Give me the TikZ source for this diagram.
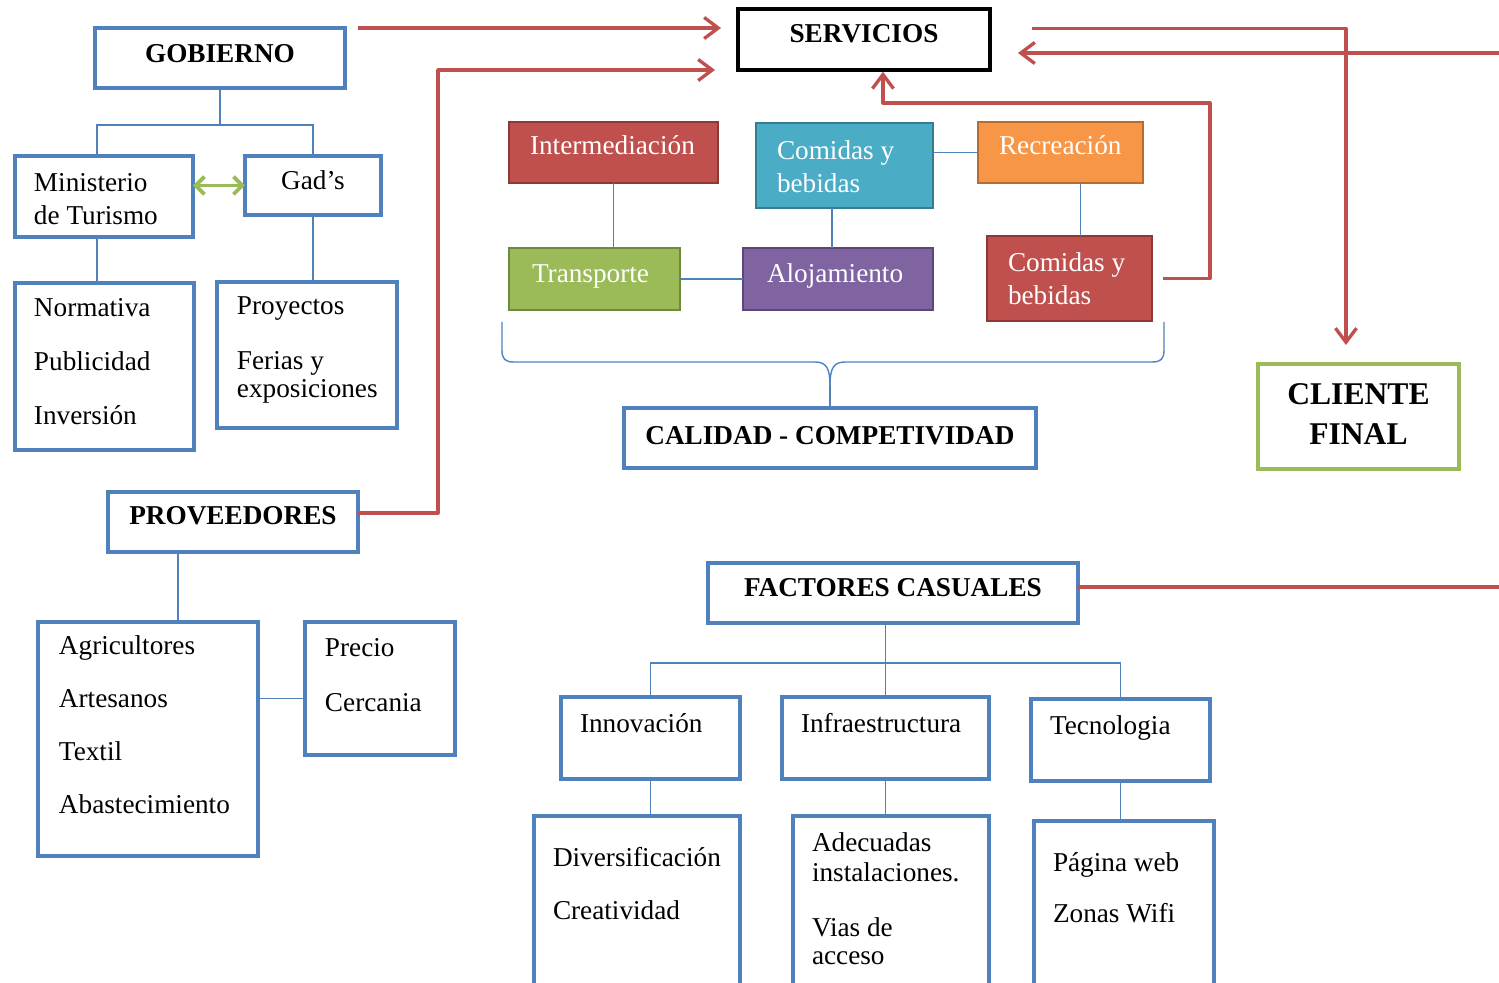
\documentclass[tikz,border=0pt]{standalone}
\usepackage{fontspec}
\setmainfont{Liberation Serif}
\usetikzlibrary{arrows.meta,calc}
\definecolor{OBlue}{HTML}{4F81BD}
\definecolor{ORed}{HTML}{C0504D}
\definecolor{ORedD}{HTML}{8C3836}
\definecolor{OTeal}{HTML}{4BACC6}
\definecolor{OTealD}{HTML}{357D91}
\definecolor{OOrange}{HTML}{F79646}
\definecolor{OOrangeD}{HTML}{B66D31}
\definecolor{OGreen}{HTML}{9BBB59}
\definecolor{OGreenD}{HTML}{71893F}
\definecolor{OPurple}{HTML}{8064A2}
\definecolor{OPurpleD}{HTML}{5C4776}
\newcommand{\bodyfont}{\fontsize{15.5}{18.7}\selectfont}
\newcommand{\headfont}{\bfseries\fontsize{15.5}{18.7}\selectfont}
\hyphenpenalty=10000

\begin{document}
\begin{tikzpicture}[x=0.02cm,y=-0.02cm,
    box/.style={draw=OBlue,line width=1.8pt,anchor=north west,inner ysep=0pt,
      outer sep=0pt,align=flush left,font=\bodyfont},
    head/.style={box,align=flush center,inner xsep=0.1cm,font=\headfont},
    tile/.style={box,draw=#1D,fill=#1,text=white,line width=1.6pt},
    link/.style={draw=OBlue,line width=0.8pt},
    flow/.style={draw=ORed,line width=1.9pt,line join=round,
      -{Straight Barb[length=8pt,width=12pt]}},
    flowline/.style={draw=ORed,line width=1.9pt}]
  \useasboundingbox (0,0) rectangle (1499,983);
  \clip (0,0) rectangle (1499,983);

  % gobierno
  \node[head,text width=4.8cm,text height=0.7cm,text depth=0.5cm] (gob) at (95,28) {GOBIERNO};
  \node[box,inner xsep=0.38cm,text width=2.8cm,text height=0.72cm,text depth=0.9cm] (mint) at (15,156) {Ministerio\\de Turismo};
  \node[head,font=\bodyfont,text width=2.52cm,text height=0.68cm,text depth=0.5cm] (gads) at (245,156) {Gad’s};
  \node[box,inner xsep=0.38cm,text width=2.82cm,text height=0.68cm,text depth=2.66cm] (norm) at (15,283) {Normativa\\[0.42cm]Publicidad\\[0.42cm]Inversión};
  \node[box,inner xsep=0.4cm,text width=2.8cm,text height=0.66cm,text depth=2.26cm] (proy) at (217,282) {Proyectos\\[0.44cm]Ferias y\\[-0.1cm]exposiciones};

  % proveedores
  \node[head,text width=4.8cm,text height=0.66cm,text depth=0.54cm] (prov) at (108,492) {PROVEEDORES};
  \node[box,inner xsep=0.42cm,text width=3.56cm,text height=0.66cm,text depth=4.02cm] (agri) at (38,622) {Agricultores\\[0.4cm]Artesanos\\[0.4cm]Textil\\[0.4cm]Abastecimiento};
  \node[box,inner xsep=0.4cm,text width=2.2cm,text height=0.7cm,text depth=1.96cm] (prec) at (305,622) {Precio\\[0.44cm]Cercania};

  % servicios
  \node[head,draw=black,text width=4.84cm,text height=0.68cm,text depth=0.54cm] (serv) at (738,9) {SERVICIOS};
  \node[tile=ORed,inner xsep=0.42cm,text width=3.34cm,text height=0.66cm,text depth=0.56cm] (inter) at (509,122) {Intermediación};
  \node[tile=OTeal,inner xsep=0.42cm,text width=2.7cm,text height=0.74cm,text depth=0.96cm] (cbb) at (756,123) {Comidas y\\bebidas};
  \node[tile=OOrange,inner xsep=0.42cm,text width=2.46cm,text height=0.66cm,text depth=0.56cm] (recr) at (978,122) {Recreación};
  \node[tile=OGreen,inner xsep=0.46cm,text width=2.5cm,text height=0.7cm,text depth=0.54cm] (trans) at (509,248) {Transporte};
  \node[tile=OPurple,inner xsep=0.48cm,text width=2.84cm,text height=0.7cm,text depth=0.54cm] (aloj) at (743,248) {Alojamiento};
  \node[tile=ORed,inner xsep=0.42cm,text width=2.46cm,text height=0.72cm,text depth=0.98cm] (cbr) at (987,236) {Comidas y\\bebidas};
  \node[head,text width=8.04cm,text height=0.74cm,text depth=0.46cm] (cal) at (624,408) {CALIDAD - COMPETIVIDAD};
  \node[head,draw=OGreen,font=\bfseries\fontsize{18}{22.7}\selectfont,text width=3.82cm,text height=0.82cm,text depth=1.28cm] (cli) at (1258,364) {CLIENTE\\FINAL};

  % factores casuales
  \node[head,text width=7.2cm,text height=0.68cm,text depth=0.52cm] (fac) at (708,563) {FACTORES CASUALES};
  \node[box,inner xsep=0.38cm,text width=2.82cm,text height=0.72cm,text depth=0.92cm] (inno) at (561,697) {Innovación};
  \node[box,inner xsep=0.38cm,text width=3.38cm,text height=0.72cm,text depth=0.92cm] (infra) at (782,697) {Infraestructura};
  \node[box,inner xsep=0.38cm,text width=2.82cm,text height=0.72cm,text depth=0.92cm] (tecn) at (1031,699) {Tecnologia};
  \node[box,inner xsep=0.38cm,text width=3.36cm,text height=1.02cm,text depth=2.66cm] (div) at (534,816) {Diversificación\\[0.4cm]Creatividad};
  \node[box,inner xsep=0.38cm,text width=3.16cm,text height=0.72cm,text depth=2.96cm] (adec) at (793,816) {Adecuadas\\[-0.06cm]instalaciones.\\[0.44cm]Vias de\\[-0.1cm]acceso};
  \node[box,inner xsep=0.38cm,text width=2.84cm,text height=1.02cm,text depth=2.58cm] (pag) at (1034,821) {Página web\\[0.36cm]Zonas Wifi};

  % blue links
  \draw[link] (gob.south) -- ++(0,37) coordinate (gj);
  \coordinate (m1) at ([xshift=-0.14cm]mint.north);
  \draw[link] (m1) |- (gj) -| (gads.north);
  \draw[link] (m1 |- mint.south) -- (m1 |- norm.north);
  \draw[link] (gads.south) -- (gads.south |- proy.north);
  \coordinate (a1) at ([xshift=0.6cm]agri.north);
  \draw[link] (a1 |- prov.south) -- (a1);
  \coordinate (pc) at ([yshift=-0.2cm]prec.west);
  \draw[link] (pc) -- (pc -| agri.east);
  \draw[link] (inter.south) -- (inter.south |- trans.north);
  \draw[link] (trans.east) -- (aloj.west);
  \coordinate (al1) at ([xshift=-0.12cm]aloj.north);
  \draw[link] (al1) -- (al1 |- cbb.south);
  \draw[link] (cbb.east |- recr.west) -- (recr.west);
  \coordinate (r1) at ([xshift=0.4cm]recr.south);
  \draw[link] (r1) -- (r1 |- cbr.north);
  \draw[link] (cal.north) -- ++(0,-23) coordinate (bt);
  \draw[link] (502,322) -- (502,350) .. controls (502,359) and (505,362) .. (514,362)
    -- (815,362) .. controls (826,362) and (830,368) .. (bt);
  \draw[link] (1164,322) -- (1164,350) .. controls (1164,359) and (1161,362) .. (1152,362)
    -- (845,362) .. controls (834,362) and (830,368) .. (bt);
  \draw[link] (infra.north |- fac.south) -- (infra.north);
  \draw[link] (inno.north) -- ++(0,-34) -| (tecn.north);
  \draw[link] (inno.south) -- (inno.south |- div.north);
  \draw[link] (infra.south) -- (infra.south |- adec.north);
  \draw[link] (tecn.south) -- (tecn.south |- pag.north);
  \draw[OGreen,line width=2.2pt,{Straight Barb[length=5pt,width=10pt]}-{Straight Barb[length=5pt,width=10pt]}]
    (gads.west -| mint.east) -- (gads.west);

  % red flows
  \coordinate (g1) at ([xshift=0.26cm]gob.north east);
  \draw[flow,shorten >=0.34cm] (g1) -- (g1 -| serv.west);
  \coordinate (p1) at ([yshift=0.18cm]prov.east);
  \draw[flow,shorten >=0.46cm] (p1) -- ++(80,0) |- (serv.south west);
  \coordinate (c1) at ([xshift=0.22cm]cbr.east);
  \coordinate (s1) at ([xshift=0.38cm]serv.south);
  \draw[flow,shorten >=1pt] (c1) -- ++(47,0) |- ($(s1)+(0,33)$) -- (s1);
  \coordinate (s2) at ($(serv.east)+(42,-11)$);
  \coordinate (k1) at ([xshift=-0.25cm]cli.north);
  \draw[flow,shorten >=0.38cm] (s2) -| (k1);
  \coordinate (edgeA) at (1510,53);
  \draw[flow,shorten >=0.56cm] (edgeA) -- (edgeA -| serv.east);
  \coordinate (fe) at ([yshift=0.12cm]fac.east);
  \coordinate (edgeB) at (1510,587);
  \draw[flowline] (fe) -- (fe -| edgeB);
\end{tikzpicture}
\end{document}
